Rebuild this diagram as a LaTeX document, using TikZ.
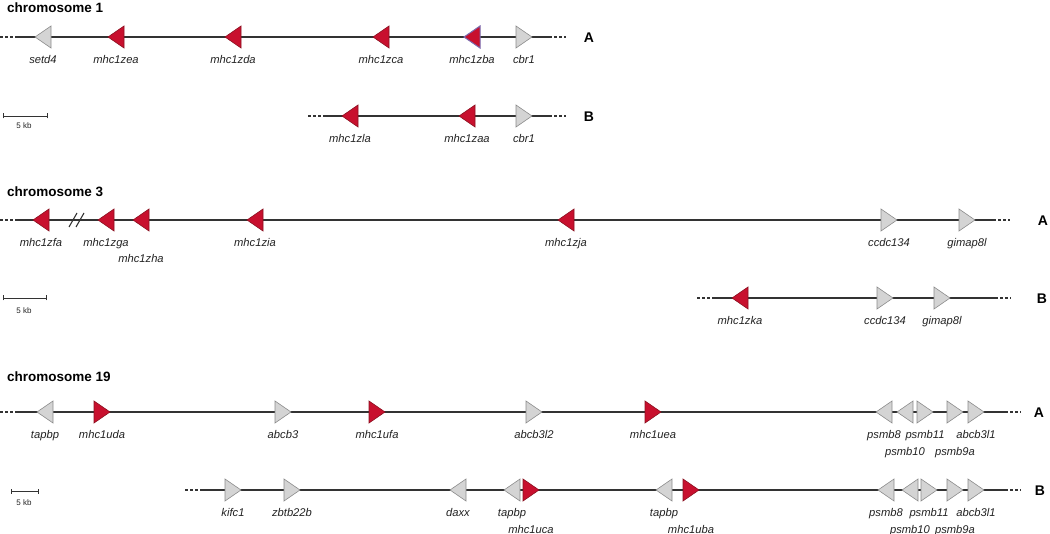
\documentclass[tikz,border=0pt]{standalone}
\usepackage{fontspec}
\setmainfont{Liberation Sans}
\definecolor{gred}{HTML}{C8102E}
\definecolor{gredd}{HTML}{8A1020}
\definecolor{ggray}{HTML}{D4D4D4}
\definecolor{ggrayd}{HTML}{8C8C8C}
\definecolor{lineg}{HTML}{333333}
\definecolor{lblc}{HTML}{222222}
\definecolor{purp}{HTML}{7A6AAE}
\newcommand\geneL[6]{% name, xleft, yline, style, label, label offset
  \draw[#4] (#2,#3) -- (#2+16,#3-11) -- (#2+16,#3+11) -- cycle;
  \node[lbl] (#1) at (#2+8,#3+#6) {#5};}
\newcommand\geneR[6]{%
  \draw[#4] (#2,#3-11) -- (#2+16,#3) -- (#2,#3+11) -- cycle;
  \node[lbl] (#1) at (#2+8,#3+#6) {#5};}
\newcommand\chromline[6]{% prefix, dash start, solid start, solid end, dash end, y
  \coordinate (#1d0) at (#2,#6);
  \coordinate (#1s0) at (#3,#6);
  \coordinate (#1s1) at (#4,#6);
  \coordinate (#1d1) at (#5,#6);
  \draw[dashend] (#1d0) -- (#1s0);
  \draw[chrom] (#1s0) -- (#1s1);
  \draw[dashend] (#1s1) -- (#1d1);}
\newcommand\scalebar[5]{% prefix, x0, x1, y, label baseline
  \coordinate (#1a) at (#2,#4);
  \coordinate (#1b) at (#3,#4);
  \draw[sbar] (#1a) -- (#1b);
  \draw[sbar] ([yshift=-2.5bp]#1a) -- ([yshift=2.5bp]#1a);
  \draw[sbar] ([yshift=-2.5bp]#1b) -- ([yshift=2.5bp]#1b);
  \node[kb] (#1t) at (24,#5) {5 kb};}
\begin{document}
\begin{tikzpicture}[x=1bp,y=-1bp,
  chrom/.style={draw=lineg, line width=1.1bp},
  dashend/.style={draw=lineg, line width=1.1bp, dash pattern=on 3bp off 2bp},
  rdg/.style={fill=gred, draw=gredd, line width=0.6bp},
  rdp/.style={fill=gred, draw=purp, line width=1bp},
  grg/.style={fill=ggray, draw=ggrayd, line width=0.6bp},
  lbl/.style={font=\fontsize{11.2bp}{13bp}\selectfont\itshape, text=lblc, anchor=base, inner sep=0pt},
  title/.style={font=\fontsize{13.5bp}{16bp}\selectfont\bfseries, anchor=base west, inner sep=0pt},
  rowlbl/.style={font=\fontsize{14bp}{16bp}\selectfont\bfseries, anchor=base, inner sep=0pt},
  kb/.style={font=\fontsize{8bp}{10bp}\selectfont, anchor=base, inner sep=0pt, text=lblc},
  sbar/.style={draw=lineg, line width=0.7bp}]
\useasboundingbox (0,0) rectangle (1050,534);

% ---------------- chromosome 1 ----------------
\node[title] (t1) at (7,13) {chromosome 1};
\chromline{c1a}{0}{15}{549}{566}{37}
\geneL{setd4}{35}{37}{grg}{setd4}{26.5}
\geneL{mhczea}{108}{37}{rdg}{mhc1zea}{26.5}
\geneL{mhczda}{225}{37}{rdg}{mhc1zda}{26.5}
\geneL{mhczca}{373}{37}{rdg}{mhc1zca}{26.5}
\geneL{mhczba}{464}{37}{rdp}{mhc1zba}{26.5}
\geneR{cbra}{516}{37}{grg}{cbr1}{26.5}
\node[rowlbl] (c1A) at (589,42.5) {A};

\scalebar{sb1}{3}{47}{116}{129}
\chromline{c1b}{308}{323}{549}{566}{116}
\geneL{mhczla}{342}{116}{rdg}{mhc1zla}{26.5}
\geneL{mhczaa}{459}{116}{rdg}{mhc1zaa}{26.5}
\geneR{cbrb}{516}{116}{grg}{cbr1}{26.5}
\node[rowlbl] (c1B) at (589,121.5) {B};

% ---------------- chromosome 3 ----------------
\node[title] (t3) at (7,197) {chromosome 3};
\chromline{c3a}{0}{15}{993}{1010}{220}
\coordinate (br1a) at (69,227); \coordinate (br1b) at (77,213);
\coordinate (br2a) at (76,227); \coordinate (br2b) at (84,213);
\draw[chrom] (br1a) -- (br1b);
\draw[chrom] (br2a) -- (br2b);
\geneL{mhczfa}{33}{220}{rdg}{mhc1zfa}{26.5}
\geneL{mhczga}{98}{220}{rdg}{mhc1zga}{26.5}
\geneL{mhczha}{133}{220}{rdg}{mhc1zha}{43}
\geneL{mhczia}{247}{220}{rdg}{mhc1zia}{26.5}
\geneL{mhczja}{558}{220}{rdg}{mhc1zja}{26.5}
\geneR{ccdca}{881}{220}{grg}{ccdc134}{26.5}
\geneR{gimapa}{959}{220}{grg}{gimap8l}{26.5}
\node[rowlbl] (c3A) at (1043,225.5) {A};

\scalebar{sb3}{3}{46}{298}{314}
\chromline{c3b}{697}{712}{995}{1011}{298}
\geneL{mhczka}{732}{298}{rdg}{mhc1zka}{26.5}
\geneR{ccdcb}{877}{298}{grg}{ccdc134}{26.5}
\geneR{gimapb}{934}{298}{grg}{gimap8l}{26.5}
\node[rowlbl] (c3B) at (1042,303.5) {B};

% ---------------- chromosome 19 ----------------
\node[title] (t19) at (7,382) {chromosome 19};
\chromline{c19a}{0}{16}{1005}{1021}{412}
\geneL{tapbpa}{37}{412}{grg}{tapbp}{26.5}
\geneR{mhcuda}{94}{412}{rdg}{mhc1uda}{26.5}
\geneR{abcba}{275}{412}{grg}{abcb3}{26.5}
\geneR{mhcufa}{369}{412}{rdg}{mhc1ufa}{26.5}
\geneR{abcblb}{526}{412}{grg}{abcb3l2}{26.5}
\geneR{mhcuea}{645}{412}{rdg}{mhc1uea}{26.5}
\geneL{psmbEa}{876}{412}{grg}{psmb8}{26.5}
\geneL{psmbTa}{897}{412}{grg}{psmb10}{43}
\geneR{psmbEEa}{917}{412}{grg}{psmb11}{26.5}
\geneR{psmbNa}{947}{412}{grg}{psmb9a}{43}
\geneR{abcbla}{968}{412}{grg}{abcb3l1}{26.5}
\node[rowlbl] (c19A) at (1039,417.5) {A};

\scalebar{sb19}{11}{38}{491}{505}
\chromline{c19b}{185}{200}{1005}{1021}{490}
\geneR{kifc}{225}{490}{grg}{kifc1}{26.5}
\geneR{zbtb}{284}{490}{grg}{zbtb22b}{26.5}
\geneL{daxx}{450}{490}{grg}{daxx}{26.5}
\geneL{tapbpb}{504}{490}{grg}{tapbp}{26.5}
\geneR{mhcuca}{523}{490}{rdg}{mhc1uca}{43}
\geneL{tapbpc}{656}{490}{grg}{tapbp}{26.5}
\geneR{mhcuba}{683}{490}{rdg}{mhc1uba}{43}
\geneL{psmbEb}{878}{490}{grg}{psmb8}{26.5}
\geneL{psmbTb}{902}{490}{grg}{psmb10}{43}
\geneR{psmbEEb}{921}{490}{grg}{psmb11}{26.5}
\geneR{psmbNb}{947}{490}{grg}{psmb9a}{43}
\geneR{abcblc}{968}{490}{grg}{abcb3l1}{26.5}
\node[rowlbl] (c19B) at (1040,495.5) {B};
\end{tikzpicture}
\end{document}
